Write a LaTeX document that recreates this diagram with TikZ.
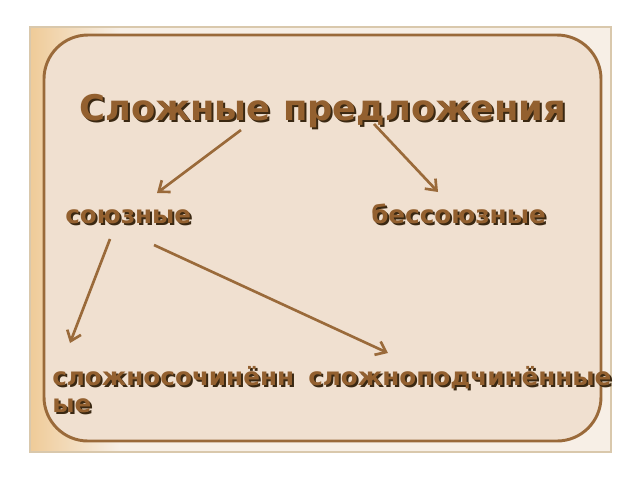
\documentclass[tikz,border=0pt]{standalone}
\usepackage{fontspec}
\setmainfont{DejaVu Sans}
\usetikzlibrary{arrows.meta}
\definecolor{pagebg}{HTML}{F7EFE6}
\definecolor{tanedge}{HTML}{EFCB98}
\definecolor{outerline}{HTML}{D9C8AC}
\definecolor{innerfill}{HTML}{F0E0D0}
\definecolor{brownline}{HTML}{9A6A3A}
\definecolor{txtbrown}{HTML}{93602F}
\definecolor{txtshadow}{HTML}{3A2812}
\tikzset{
  lbl/.style={inner sep=0pt, anchor=base west, font=\bfseries\fontsize{18.5pt}{22pt}\selectfont, text=txtbrown},
  ttl/.style={lbl, font=\bfseries\fontsize{26.5pt}{32pt}\selectfont},
  shd/.style={text=txtshadow},
  conn/.style={draw=brownline, line width=2pt, -{Straight Barb[length=7pt,width=11pt,line width=2pt]}},
}
\newcommand\shlabel[4]{%
  \node[#2, shd] at ([shift={(2,2)}]#3) {#4};
  \node[#2] (#1) at (#3) {#4};
}
\begin{document}
\begin{tikzpicture}[x=0.75pt,y=-0.75pt]
\useasboundingbox (0,0) rectangle (640,480);
\fill[white] (0,0) rectangle (640,480);
% outer frame
\fill[pagebg] (30,27) rectangle (611,452);
\shade[left color=tanedge, right color=pagebg] (30,27) rectangle (120,452);
\draw[outerline, line width=1.2pt] (30,27) rectangle (611,452);
% inner rounded panel
\draw[brownline, fill=innerfill, line width=2.2pt, rounded corners=33pt] (44,35) rectangle (601,441);
% texts
\shlabel{title}{ttl}{79,120}{Сложные предложения}
\shlabel{soyuz}{lbl}{65,223}{союзные}
\shlabel{bessoyuz}{lbl}{371,223}{бессоюзные}
\shlabel{slsoch}{lbl}{52,385}{сложносочинённ}
\shlabel{slsoch2}{lbl}{52,412}{ые}
\shlabel{slpodch}{lbl}{308,385}{сложноподчинённые}
% connector ends
\coordinate (a1s) at (241,130);
\coordinate (a1e) at (157,193);
\coordinate (a2s) at (374,124);
\coordinate (a2e) at (438,192);
\coordinate (a3s) at (110,239);
\coordinate (a3e) at (70,343);
\coordinate (a4s) at (154,245);
\coordinate (a4e) at (388,353);
\draw[conn] (a1s) -- (a1e);
\draw[conn] (a2s) -- (a2e);
\draw[conn] (a3s) -- (a3e);
\draw[conn] (a4s) -- (a4e);
\end{tikzpicture}
\end{document}
